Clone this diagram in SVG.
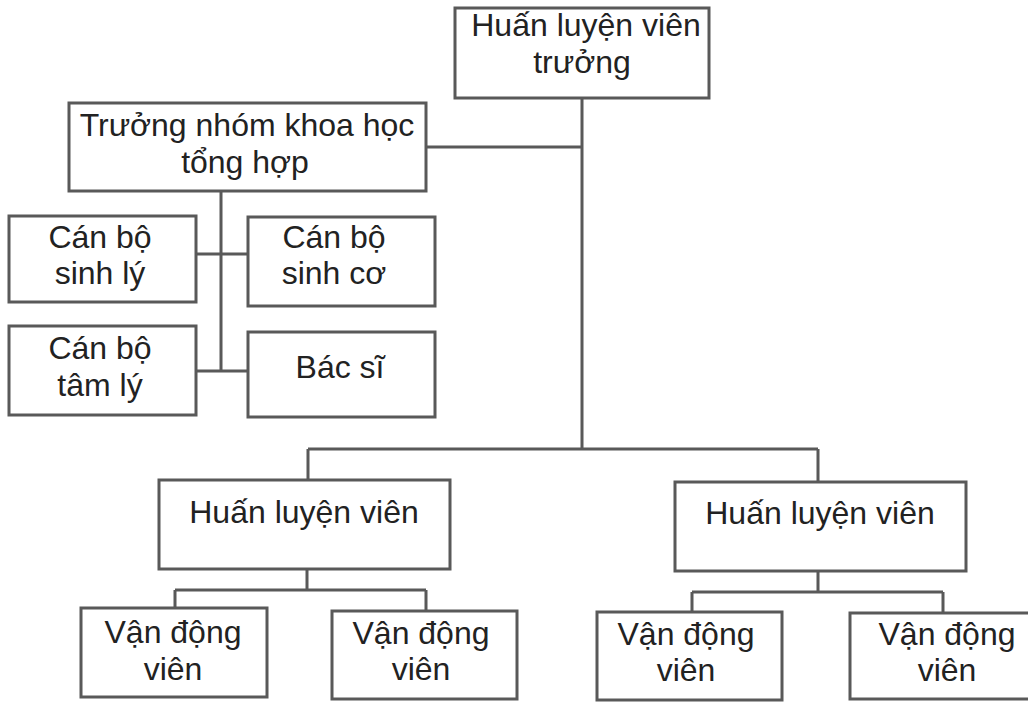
<svg xmlns="http://www.w3.org/2000/svg" width="1028" height="702" viewBox="0 0 1028 702">
<style>
.box{fill:#ffffff;stroke:#595959;stroke-width:3}
.ln{fill:none;stroke:#595959;stroke-width:3}
text{font-family:"Liberation Sans",Arial,sans-serif;font-size:32px;fill:#222222;text-anchor:middle}
</style>
<rect width="1028" height="702" fill="#ffffff"/>
<g id="connectors">
<path class="ln" d="M582 98 V449 M426 147 H582 M308 449 H818 M308 449 V480 M818 449 V482"/>
<path class="ln" d="M221 191 V371 M196 254 H248 M196 371 H248"/>
<path class="ln" d="M307 569 V590 M175 590 H426 M175 590 V608 M426 590 V611"/>
<path class="ln" d="M818 571 V592 M692 592 H943 M692 592 V612 M943 592 V613"/>
</g>
<g id="hlv-truong">
<rect class="box" x="455" y="8" width="254" height="90"/>
<text x="586" y="36">Huấn luyện viên</text>
<text x="582" y="73">trưởng</text>
</g>
<g id="truong-nhom">
<rect class="box" x="69" y="103" width="357" height="88"/>
<text x="247" y="136">Trưởng nhóm khoa học</text>
<text x="245" y="173">tổng hợp</text>
</g>
<g id="sinh-ly">
<rect class="box" x="9" y="216" width="187" height="86"/>
<text x="100" y="248">Cán bộ</text>
<text x="100" y="284">sinh lý</text>
</g>
<g id="sinh-co">
<rect class="box" x="248" y="217" width="187" height="89"/>
<text x="334" y="248">Cán bộ</text>
<text x="334" y="284">sinh cơ</text>
</g>
<g id="tam-ly">
<rect class="box" x="9" y="326" width="187" height="89"/>
<text x="100" y="359">Cán bộ</text>
<text x="100" y="396">tâm lý</text>
</g>
<g id="bac-si">
<rect class="box" x="248" y="332" width="187" height="85"/>
<text x="340" y="378">Bác sĩ</text>
</g>
<g id="hlv-1">
<rect class="box" x="159" y="480" width="291" height="89"/>
<text x="304" y="523">Huấn luyện viên</text>
</g>
<g id="hlv-2">
<rect class="box" x="675" y="482" width="291" height="89"/>
<text x="820" y="524">Huấn luyện viên</text>
</g>
<g id="vdv-1">
<rect class="box" x="81" y="608" width="186" height="89"/>
<text x="173" y="643">Vận động</text>
<text x="173" y="680">viên</text>
</g>
<g id="vdv-2">
<rect class="box" x="332" y="611" width="185" height="88"/>
<text x="421" y="644">Vận động</text>
<text x="421" y="680">viên</text>
</g>
<g id="vdv-3">
<rect class="box" x="597" y="612" width="185" height="88"/>
<text x="686" y="645">Vận động</text>
<text x="686" y="681">viên</text>
</g>
<g id="vdv-4">
<rect class="box" x="850" y="613" width="185" height="86"/>
<text x="947" y="645">Vận động</text>
<text x="947" y="681">viên</text>
</g>
</svg>
